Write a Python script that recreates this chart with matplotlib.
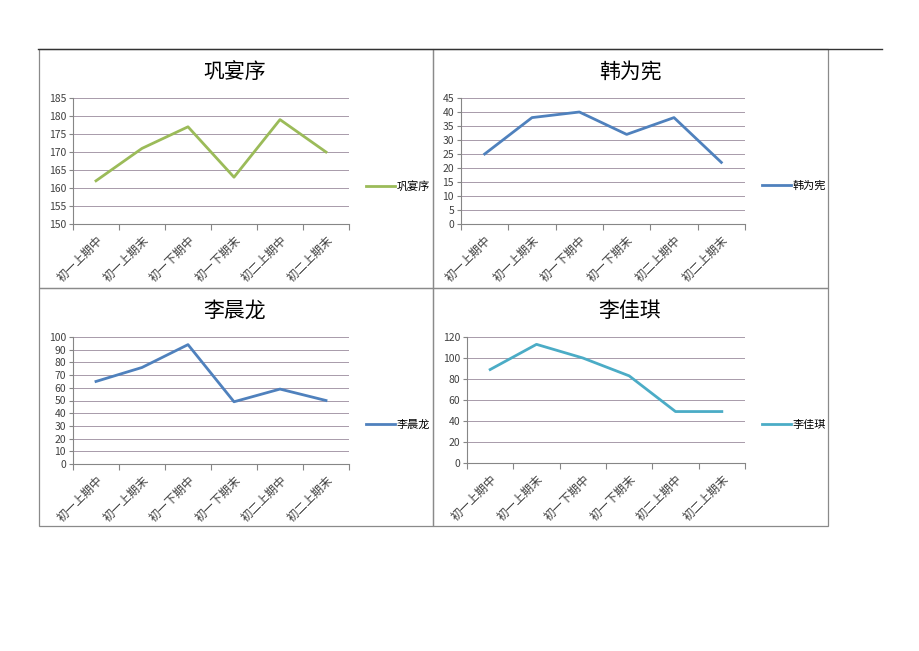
'''
plot.py
Four small score charts, one per student
'''

# IMPORTS
import matplotlib
matplotlib.use('Agg')
import matplotlib.pyplot as plt
from matplotlib.patches import Rectangle
from matplotlib.lines import Line2D

plt.rcParams['font.family'] = ['Noto Sans CJK SC', 'DejaVu Sans']

# DATA
terms = ['初一上期中', '初一上期末', '初一下期中', '初一下期末', '初二上期中', '初二上期末']
names = ['巩宴序', '韩为宪', '李晨龙', '李佳琪']
gong = [162, 171, 177, 163, 179, 170]
han = [25, 38, 40, 32, 38, 22]
li_cl = [65, 76, 94, 49, 59, 50]
li_jq = [89, 113, 100, 83, 49, 49]
series = [gong, han, li_cl, li_jq]
colors = ['#9BBB59', '#4F81BD', '#4F81BD', '#4BACC6']
ylims = [(150, 185, 5), (0, 45, 5), (0, 100, 10), (0, 120, 20)]

# LAYOUT (pixels)
W, H = 920, 651
# plot area: left, right, top, bottom
areas = [(73, 349, 98, 224), (461, 745, 98, 224),
         (73, 349, 337, 464), (467, 745, 337, 463)]
# panel box: left, right, top, bottom
boxes = [(39, 433, 49, 288), (433, 828, 49, 288),
         (39, 433, 288, 526), (433, 828, 288, 526)]
title_pos = [(235, 72), (630, 72), (235, 311), (630, 311)]
legend_y = [186, 186, 425, 425]

fig = plt.figure(figsize=(W/100, H/100), dpi=100)
fig.patch.set_facecolor('white')

def fx(px):
    return px/W

def fy(py):
    return 1 - py/H

# page line and panel frames
fig.add_artist(Line2D([fx(38), fx(882)], [fy(49), fy(49)], color='#333333', lw=1.0))
for (l, r, t, b) in boxes:
    fig.add_artist(Rectangle((fx(l), fy(b)), fx(r) - fx(l), fy(t) - fy(b),
                             fill=False, edgecolor='#8a8a8a', lw=0.9))

for i in range(4):
    l, r, t, b = areas[i]
    ax = fig.add_axes([fx(l), fy(b), fx(r) - fx(l), fy(t) - fy(b)])
    x = list(range(len(terms)))
    ax.plot(x, series[i], color=colors[i], lw=2.0, label=names[i])
    lo, hi, step = ylims[i]
    ax.set_ylim(lo, hi)
    ax.set_yticks(list(range(lo, hi + 1, step)))
    ax.set_xlim(-0.5, len(terms) - 0.5)
    ax.set_xticks(x)
    ax.set_xticklabels(terms, rotation=45, ha='right', rotation_mode='anchor',
                       fontsize=8.5, color='#404040')
    ax.set_xticks([k - 0.5 for k in range(len(terms) + 1)], minor=True)
    ax.tick_params(axis='x', which='major', length=0, pad=7)
    ax.tick_params(axis='x', which='minor', length=4, color='#868686', width=0.8)
    ax.tick_params(axis='y', length=3, color='#868686', width=0.8,
                   labelsize=7.5, labelcolor='#404040', pad=2)
    ax.grid(axis='y', color='#a89aaa', lw=0.7)
    ax.set_axisbelow(True)
    for s in ['top', 'right']:
        ax.spines[s].set_visible(False)
    for s in ['left', 'bottom']:
        ax.spines[s].set_color('#868686')
        ax.spines[s].set_linewidth(0.8)
    fig.text(fx(title_pos[i][0]), fy(title_pos[i][1]), names[i], ha='center', va='center',
             fontsize=15, color='black')
    ax.legend(loc='center left', bbox_to_anchor=(fx(r + 17), fy(legend_y[i])),
              bbox_transform=fig.transFigure, frameon=False, fontsize=8,
              handlelength=2.6, handletextpad=0.15, borderpad=0, borderaxespad=0)

fig.savefig('out.png', dpi=100, facecolor='white')
